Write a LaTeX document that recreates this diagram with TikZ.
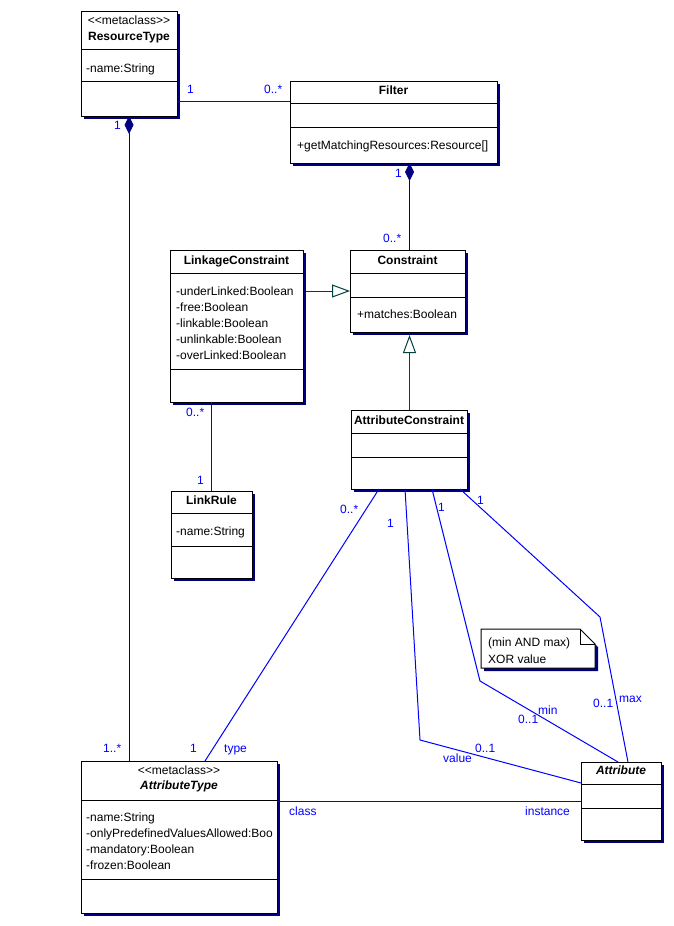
\documentclass[tikz,border=0pt]{standalone}
\usepackage{fontspec}
\setmainfont{Liberation Sans}
\usetikzlibrary{arrows.meta,calc,shadows}
\definecolor{navyc}{RGB}{0,0,128}
\definecolor{assoc}{RGB}{0,0,255}
\definecolor{gen}{RGB}{0,64,64}
\begin{document}
\begin{tikzpicture}[x=1pt,y=-1pt,
  font=\fontsize{12pt}{14pt}\selectfont,
  cls/.style={draw=black,fill=white,line width=1pt,inner sep=0pt,outer sep=0pt,
    drop shadow={shadow xshift=3pt,shadow yshift=-3pt,fill=navyc,opacity=1}},
  sep/.style={draw=black,line width=1pt},
  title/.style={anchor=base,inner sep=0pt,font=\fontsize{12pt}{14pt}\selectfont\bfseries},
  ititle/.style={anchor=base,inner sep=0pt,font=\fontsize{12pt}{14pt}\selectfont\bfseries\itshape},
  ster/.style={anchor=base,inner sep=0pt},
  txt/.style={anchor=base west,inner sep=0pt},
  lbl/.style={anchor=base west,inner sep=0pt,text=assoc},
  assocl/.style={draw=assoc,line width=1pt},
  comp/.style={draw=navyc,line width=1pt,{Diamond[length=18pt,width=9pt,fill=navyc]}-},
  genl/.style={draw=gen,line width=1pt,-{Triangle[open,length=18pt,width=13pt,fill=white]}}
]
\fill[white] (0,0) rectangle (674,926);
\useasboundingbox (0,0) rectangle (674,926);

% ---------- classes ----------
\node[cls,minimum width=96pt,minimum height=105pt] (rt) at (129,63.5) {};
\draw[sep] (rt.west |- 0,49) -- (rt.east |- 0,49);
\draw[sep] (rt.west |- 0,81) -- (rt.east |- 0,81);
\node[ster] (rt-s) at (129,24) {{<}{<}metaclass{>}{>}};
\node[title] (rt-t) at (129,40) {ResourceType};
\node[txt] (rt-a1) at (86,72) {-name:String};

\node[cls,minimum width=207pt,minimum height=82pt] (flt) at (393.5,122) {};
\draw[sep] (flt.west |- 0,103) -- (flt.east |- 0,103);
\draw[sep] (flt.west |- 0,127) -- (flt.east |- 0,127);
\node[title] (flt-t) at (393.5,94) {Filter};
\node[txt] (flt-m1) at (297,149) {+getMatchingResources:Resource[]};

\node[cls,minimum width=115pt,minimum height=82pt] (con) at (407.5,291) {};
\draw[sep] (con.west |- 0,273) -- (con.east |- 0,273);
\draw[sep] (con.west |- 0,297) -- (con.east |- 0,297);
\node[title] (con-t) at (407.5,264) {Constraint};
\node[txt] (con-m1) at (357,318) {+matches:Boolean};

\node[cls,minimum width=133pt,minimum height=152pt] (lc) at (236.5,326) {};
\draw[sep] (lc.west |- 0,273) -- (lc.east |- 0,273);
\draw[sep] (lc.west |- 0,369) -- (lc.east |- 0,369);
\node[title] (lc-t) at (236.5,264) {LinkageConstraint};
\node[txt] (lc-a1) at (176,295) {-underLinked:Boolean};
\node[txt] (lc-a2) at (176,311) {-free:Boolean};
\node[txt] (lc-a3) at (176,327) {-linkable:Boolean};
\node[txt] (lc-a4) at (176,343) {-unlinkable:Boolean};
\node[txt] (lc-a5) at (176,359) {-overLinked:Boolean};

\node[cls,minimum width=116pt,minimum height=79pt] (ac) at (409,449.5) {};
\draw[sep] (ac.west |- 0,433) -- (ac.east |- 0,433);
\draw[sep] (ac.west |- 0,457) -- (ac.east |- 0,457);
\node[title] (ac-t) at (409,424) {AttributeConstraint};

\node[cls,minimum width=81pt,minimum height=87pt] (lr) at (211.5,534.5) {};
\draw[sep] (lr.west |- 0,513) -- (lr.east |- 0,513);
\draw[sep] (lr.west |- 0,546) -- (lr.east |- 0,546);
\node[title] (lr-t) at (211.5,504) {LinkRule};
\node[txt] (lr-a1) at (176,535) {-name:String};

\node[cls,minimum width=196pt,minimum height=152pt] (at) at (179,837) {};
\draw[sep] (at.west |- 0,800) -- (at.east |- 0,800);
\draw[sep] (at.west |- 0,879) -- (at.east |- 0,879);
\node[ster] (at-s) at (179,774) {{<}{<}metaclass{>}{>}};
\node[ititle] (at-t) at (179,789) {AttributeType};
\node[txt] (at-a1) at (86,821) {-name:String};
\begin{scope}
\clip (81,801) rectangle (276.5,878);
\node[txt] (at-a2) at (86,837) {-onlyPredefinedValuesAllowed:Boo};
\end{scope}
\node[txt] (at-a3) at (86,853) {-mandatory:Boolean};
\node[txt] (at-a4) at (86,869) {-frozen:Boolean};

\node[cls,minimum width=80pt,minimum height=78pt] (attr) at (621,801) {};
\draw[sep] (attr.west |- 0,784) -- (attr.east |- 0,784);
\draw[sep] (attr.west |- 0,808) -- (attr.east |- 0,808);
\node[ititle] (attr-t) at (621,774) {Attribute};

% ---------- note ----------
\fill[navyc] (484,632) -- (583,632) -- (598,647) -- (598,671) -- (484,671) -- cycle;
\draw[black,fill=white,line width=1pt] (481,629) -- (580,629) -- (595,644) -- (595,668) -- (481,668) -- cycle;
\draw[black,line width=1pt] (580,629) -- (580,644) -- (595,644);
\node[txt] (note1) at (488,646) {(min AND max)};
\node[txt] (note2) at (488,663) {XOR value};

% ---------- connectors ----------
\coordinate (fcx) at (409.5,0);
\coordinate (rtf) at (0,101.5);
\coordinate (aty) at (0,801.5);
\draw[assocl] (rtf -| rt.east) -- (rtf -| flt.west);
\draw[comp] (rt.south) -- (at.north -| rt.south);
\draw[comp] (flt.south -| fcx) -- (con.north -| fcx);
\draw[genl] ($(con.west -| lc.east)+(3,0)$) -- (con.west);
\draw[genl] (ac.north -| fcx) -- ($(con.south -| fcx)+(0,3)$);
\draw[assocl] (lr.north) -- (lc.south -| lr.north);
\draw[assocl] ($(ac.south)+(-30,0)$) -- ($(at.north)+(26,0)$);
\coordinate (bv) at (420,740);
\coordinate (bmin) at (480,681);
\coordinate (bmax) at (600,617);
\draw[assocl] ($(ac.south)+(-4,0)$) -- (bv) -- ($(attr.north west)+(0,21)$);
\draw[assocl] ($(ac.south)+(23,0)$) -- (bmin) -- ($(attr.north)+(-3,0)$);
\draw[assocl] ($(ac.south)+(51,0)$) -- (bmax) -- ($(attr.north)+(7,0)$);
\draw[assocl] (aty -| at.east) -- (aty -| attr.west);

% ---------- labels ----------
\node[lbl] (l1) at (187,93) {1};
\node[lbl] (l2) at (264,93) {0..*};
\node[lbl] (l3) at (114,129) {1};
\node[lbl] (l4) at (103,752) {1..*};
\node[lbl] (l5) at (395,177) {1};
\node[lbl] (l6) at (383,242) {0..*};
\node[lbl] (l7) at (186,416) {0..*};
\node[lbl] (l8) at (197,484) {1};
\node[lbl] (l9) at (340,513) {0..*};
\node[lbl] (l10) at (387,527) {1};
\node[lbl] (l11) at (438,511) {1};
\node[lbl] (l12) at (477,504) {1};
\node[lbl] (l13) at (190,752) {1};
\node[lbl] (l14) at (224,752) {type};
\node[lbl] (l15) at (443,762) {value};
\node[lbl] (l16) at (475,752) {0..1};
\node[lbl] (l17) at (538,714) {min};
\node[lbl] (l18) at (518,723) {0..1};
\node[lbl] (l19) at (593,707) {0..1};
\node[lbl] (l20) at (619,702) {max};
\node[lbl] (l21) at (289,815) {class};
\node[lbl] (l22) at (525,815) {instance};
\end{tikzpicture}
\end{document}
